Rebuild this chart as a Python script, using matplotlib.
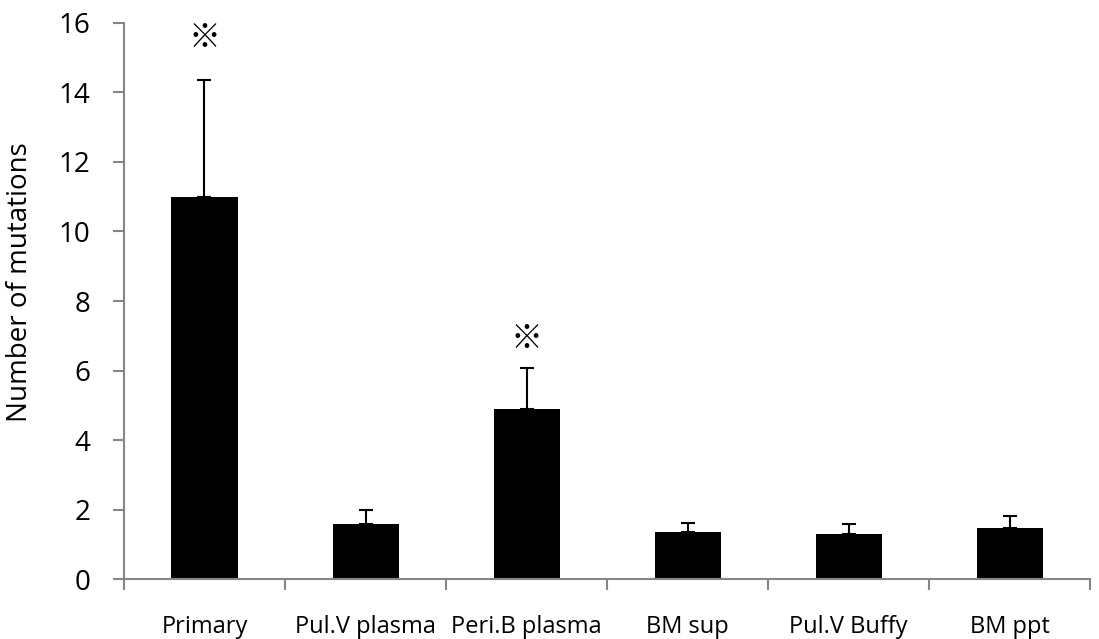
import matplotlib
matplotlib.use("Agg")
import matplotlib.pyplot as plt
import numpy as np

plt.rcParams['font.family'] = ['Open Sans', 'DejaVu Sans', 'Noto Sans CJK JP']

categories = ["Primary", "Pul.V plasma", "Peri.B plasma", "BM sup", "Pul.V Buffy", "BM ppt"]
means = [11.0, 1.59, 4.9, 1.36, 1.29, 1.48]
errs = [3.35, 0.39, 1.17, 0.25, 0.29, 0.35]
marks = ["※", "", "※", "", "", ""]
mark_y = [15.55, 0, 6.9, 0, 0, 0]

fig = plt.figure(figsize=(10.99, 6.39), dpi=100)
ax = fig.add_axes([0.1128, 0.0934, 0.8792, 0.8711])

x = np.arange(len(categories))
ax.bar(x, means, width=0.41, color="black", zorder=2)
ax.errorbar(x, means, yerr=[np.zeros(len(errs)), errs], fmt="none",
            ecolor="black", elinewidth=1.5, capsize=5, capthick=1.5, zorder=3)

for xi, yi, s in zip(x, mark_y, marks):
    if s:
        ax.text(xi, yi, s, ha="center", va="center", fontsize=23,
                family=['Noto Sans CJK JP', 'DejaVu Sans'])

ax.set_xlim(-0.5, len(categories) - 0.5)
ax.set_ylim(0, 16)
ax.set_yticks(np.arange(0, 17, 2))
ax.tick_params(axis="y", labelsize=20, length=8, width=1.5, color="#868686", pad=16)

ax.set_xticks(np.arange(-0.5, len(categories), 1.0))
ax.set_xticklabels([])
ax.set_xticks(x, minor=True)
ax.set_xticklabels(categories, minor=True, fontsize=17)
ax.tick_params(axis="x", which="major", length=8, width=1.5, color="#868686")
ax.tick_params(axis="x", which="minor", length=0, pad=26)

ax.set_ylabel("Number of mutations", fontsize=20)
ax.yaxis.set_label_coords(-0.093, 0.534)

for side in ["top", "right"]:
    ax.spines[side].set_visible(False)
for side in ["left", "bottom"]:
    ax.spines[side].set_color("#868686")
    ax.spines[side].set_linewidth(1.5)

fig.savefig("out.png", dpi=100)
